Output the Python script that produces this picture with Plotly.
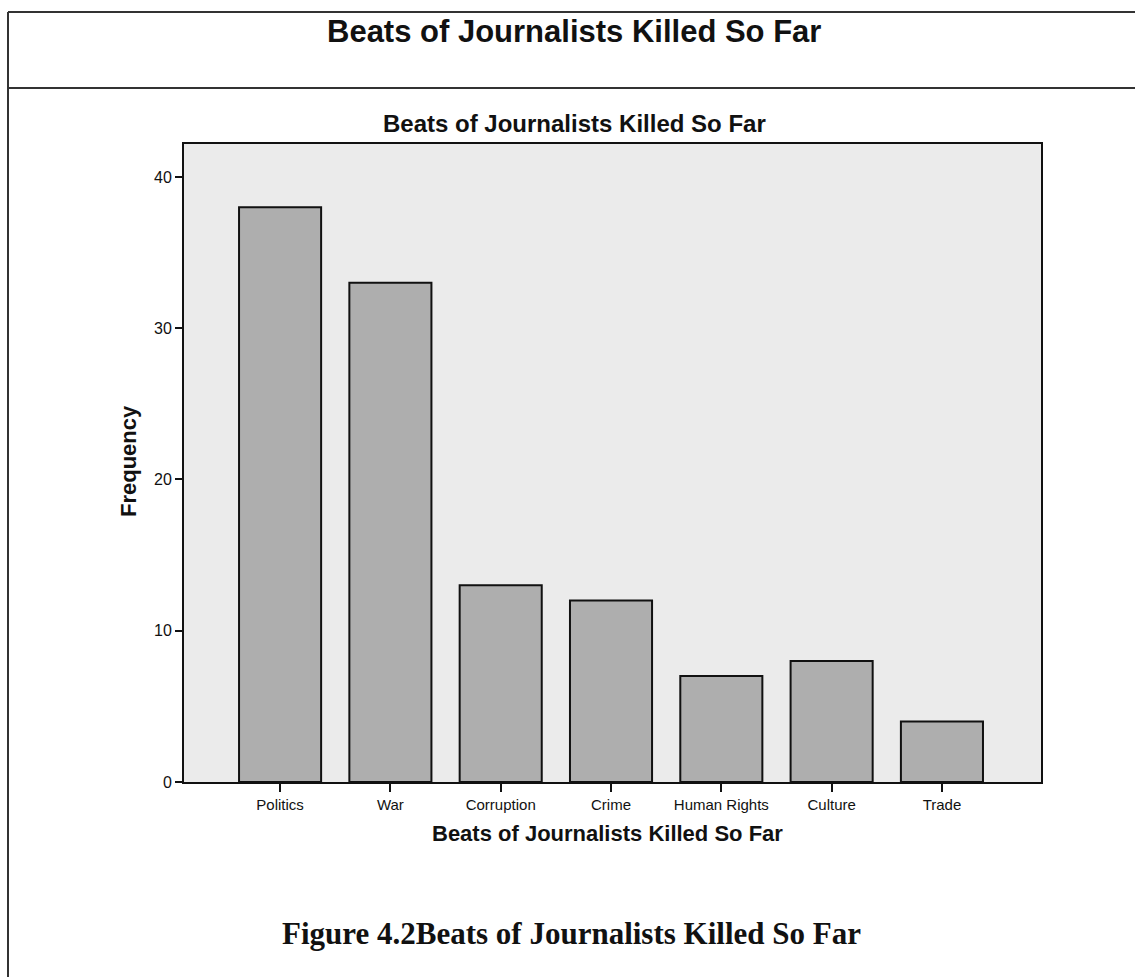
import plotly.graph_objects as go

categories = ["Politics", "War", "Corruption", "Crime", "Human Rights", "Culture", "Trade"]
frequency = [38, 33, 13, 12, 7, 8, 4]
y_ticks = [0, 10, 20, 30, 40]

main_title = "Beats of Journalists Killed So Far"
chart_title = "Beats of Journalists Killed So Far"
x_title = "Beats of Journalists Killed So Far"
y_title = "Frequency"
caption = "Figure 4.2Beats of Journalists Killed So Far"

W, H = 1135, 977
L, R, T, B = 184, 1041, 144, 782


def px(x):
    return (x - L) / (R - L)


def py(y):
    return (B - y) / (B - T)


fig = go.Figure(
    go.Bar(
        x=categories,
        y=frequency,
        marker=dict(color="#aeaeae", line=dict(color="#111111", width=2)),
        showlegend=False,
    )
)

fig.update_layout(
    width=W,
    height=H,
    margin=dict(l=L, r=W - R, t=T, b=H - B),
    paper_bgcolor="white",
    plot_bgcolor="#ebebeb",
    bargap=0.256,
    font=dict(family="Liberation Sans, Arial, sans-serif", color="#111111"),
)

fig.update_xaxes(
    type="category",
    range=[-0.871, 6.898],
    showline=True,
    linecolor="#111111",
    linewidth=2,
    mirror=True,
    ticks="outside",
    ticklen=8,
    tickwidth=2,
    tickcolor="#111111",
    tickfont=dict(size=15, color="#111111"),
    showgrid=False,
    zeroline=False,
)
fig.update_yaxes(
    range=[0, 42.18],
    tickvals=y_ticks,
    showline=True,
    linecolor="#111111",
    linewidth=2,
    mirror=True,
    ticks="outside",
    ticklen=7,
    tickwidth=2,
    tickcolor="#111111",
    tickfont=dict(size=16, color="#111111"),
    showgrid=False,
    zeroline=False,
)

ann = [
    dict(text="<b>%s</b>" % main_title, x=px(574), y=py(32), font=dict(size=31)),
    dict(text="<b>%s</b>" % chart_title, x=px(574), y=py(123), font=dict(size=24)),
    dict(text="<b>%s</b>" % y_title, x=px(128), y=py(461), font=dict(size=22), textangle=-90),
    dict(text="<b>%s</b>" % x_title, x=px(607), y=py(833), font=dict(size=22)),
    dict(text="<b>%s</b>" % caption, x=px(571), y=py(933),
         font=dict(size=31, family="Liberation Serif, Times New Roman, serif")),
]
for a in ann:
    a.update(xref="paper", yref="paper", xanchor="center", yanchor="middle", showarrow=False)
    a["font"].setdefault("color", "#111111")
fig.update_layout(annotations=ann)

frame = dict(type="line", xref="paper", yref="paper", line=dict(color="#333333", width=2))
fig.add_shape(x0=px(8), x1=px(1140), y0=py(12), y1=py(12), **frame)
fig.add_shape(x0=px(8), x1=px(1140), y0=py(88), y1=py(88), **frame)
fig.add_shape(x0=px(8), x1=px(8), y0=py(12), y1=py(980), **frame)

fig.write_html("out.html")
